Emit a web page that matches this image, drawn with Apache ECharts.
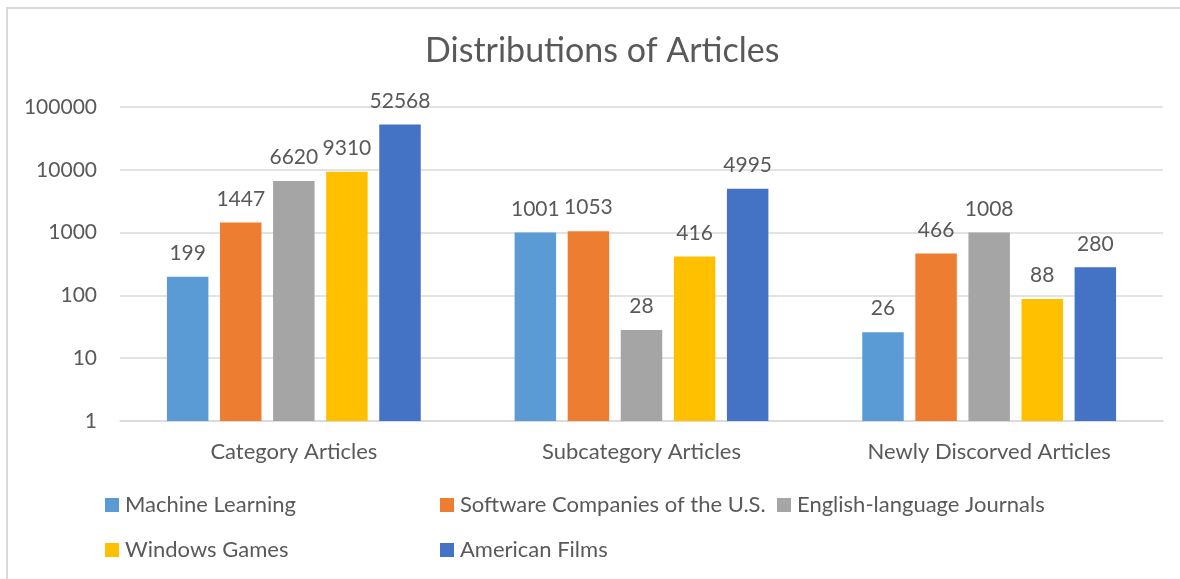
<!DOCTYPE html>
<html>
<head>
<meta charset="utf-8">
<title>Distributions of Articles</title>
<script src="https://cdn.jsdelivr.net/npm/echarts@6/dist/echarts.min.js"></script>
<style>
  html, body { margin: 0; padding: 0; background: #fff; }
  #chart { width: 1180px; height: 579px; }
</style>
</head>
<body>
<div id="chart"></div>
<script>
// categories on the x axis
var categories = ['Category Articles', 'Subcategory Articles', 'Newly Discorved Articles'];

// one array per series, in category order
var machineLearning = [199, 1001, 26];
var softwareCompanies = [1447, 1053, 466];
var englishJournals = [6620, 28, 1008];
var windowsGames = [9310, 416, 88];
var americanFilms = [52568, 4995, 280];

var seriesNames = ['Machine Learning', 'Software Companies of the U.S.', 'English-language Journals', 'Windows Games', 'American Films'];
var seriesValues = [machineLearning, softwareCompanies, englishJournals, windowsGames, americanFilms];
var colors = ['#5B9BD5', '#ED7D31', '#A5A5A5', '#FFC000', '#4472C4'];

var font = 'Lato, "Open Sans", sans-serif';
var textColor = '#595959';

var chart = echarts.init(document.getElementById('chart'));

// legend laid out like the original: three columns, two rows
var legendSpots = [[105, 494], [440, 494], [777, 494], [105, 539], [440, 539]];
var legends = seriesNames.map(function (name, i) {
    return {
        data: [name],
        left: legendSpots[i][0],
        top: legendSpots[i][1],
        padding: 0,
        icon: 'rect',
        itemWidth: 14,
        itemHeight: 14,
        itemGap: 6,
        selectedMode: false,
        textStyle: { color: textColor, fontSize: 22, fontFamily: font, padding: [0, 0, 0, 1] }
    };
});

var option = {
    animation: false,
    color: colors,
    title: {
        text: 'Distributions of Articles',
        left: 425,
        top: 34,
        padding: 0,
        textStyle: { color: textColor, fontSize: 34, fontWeight: 'normal', fontFamily: font }
    },
    legend: legends,
    grid: { left: 120, right: 17, top: 107, bottom: 158 },
    xAxis: {
        type: 'category',
        data: categories,
        axisTick: { show: false },
        axisLine: { lineStyle: { color: '#D9D9D9', width: 1.5 } },
        axisLabel: { color: textColor, fontSize: 22, fontFamily: font, margin: 20 }
    },
    yAxis: {
        type: 'log',
        logBase: 10,
        min: 1,
        max: 100000,
        splitNumber: 5,
        axisLine: { show: false },
        axisTick: { show: false },
        axisLabel: {
            color: textColor,
            fontSize: 21,
            fontFamily: font,
            margin: 23,
            formatter: function (v) { return String(Math.round(v)); }
        },
        splitLine: { lineStyle: { color: '#D9D9D9', width: 1.5 } }
    },
    graphic: [{
        type: 'rect',
        silent: true,
        shape: { x: 7, y: 8, width: 1200, height: 600 },
        style: { fill: 'none', stroke: '#D9D9D9', lineWidth: 2 }
    }],
    series: seriesNames.map(function (name, i) {
        return {
            name: name,
            type: 'bar',
            data: seriesValues[i],
            barGap: '28%',
            barCategoryGap: '27%',
            label: {
                show: true,
                position: 'top',
                distance: 13,
                color: textColor,
                fontSize: 21,
                fontFamily: font
            }
        };
    })
};

chart.setOption(option);
window.addEventListener('resize', function () {
    chart.resize();
});
</script>
</body>
</html>
